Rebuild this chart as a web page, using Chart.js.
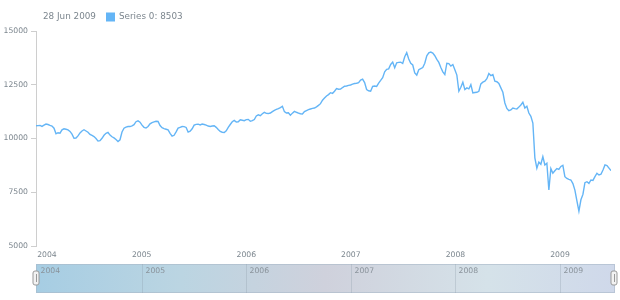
<!DOCTYPE html>
<html>
<head>
<meta charset="utf-8">
<script src="https://cdn.jsdelivr.net/npm/chart.js@4.4.0/dist/chart.umd.min.js"></script>
<style>
  html, body { margin: 0; padding: 0; background: #fff; }
  #wrap { width: 620px; height: 300px; }
</style>
</head>
<body>
<div id="wrap"><canvas id="stockChart" width="620" height="300"></canvas></div>
<script>
// weekly points, first week ending 28 Dec 2003
const startDate = '2003-12-28';
const seriesName = 'Series 0';
const values = [
  10593, 10600, 10608, 10561, 10620, 10673, 10650, 10610, 10580, 10480,
  10220, 10270, 10250, 10400, 10450, 10430, 10400, 10330, 10200, 10010,
  10020, 10120, 10260, 10350, 10406, 10350, 10290, 10190, 10140, 10090,
  10000, 9880, 9900, 10010, 10150, 10240, 10280, 10160, 10080, 10030,
  9950, 9860, 9940, 10300, 10480, 10530, 10560, 10555, 10590, 10640,
  10780, 10820, 10760, 10620, 10520, 10486, 10560, 10680, 10740, 10770,
  10800, 10790, 10600, 10500, 10460, 10430, 10400, 10240, 10110, 10150,
  10310, 10486, 10520, 10555, 10550, 10514, 10299, 10340, 10450, 10620,
  10660, 10670, 10630, 10670, 10650, 10620, 10580, 10561, 10580, 10590,
  10520, 10420, 10330, 10290, 10280, 10360, 10520, 10650, 10780, 10840,
  10770, 10780, 10870, 10850, 10830, 10880, 10890, 10800, 10830, 10880,
  11050, 11100, 11060, 11150, 11215, 11170, 11160, 11184, 11250, 11310,
  11350, 11390, 11440, 11495, 11250, 11184, 11200, 11080, 11180, 11262,
  11220, 11184, 11150, 11137, 11250, 11300, 11340, 11371, 11400, 11418,
  11470, 11540, 11620, 11780, 11880, 11980, 12042, 12130, 12100, 12200,
  12322, 12290, 12300, 12370, 12430, 12440, 12470, 12490, 12530, 12556,
  12570, 12600, 12720, 12760, 12600, 12276, 12220, 12197, 12420, 12440,
  12420, 12580, 12700, 12830, 13100, 13220, 13240, 13444, 13553, 13288,
  13521, 13540, 13553, 13490, 13800, 13990, 13700, 13500, 13420, 13050,
  12950, 13200, 13250, 13300, 13500, 13850, 13980, 14020, 13970, 13850,
  13680, 13540, 13300, 13100, 12975, 13500, 13480, 13366, 13440, 13200,
  12950, 12197, 12380, 12617, 12275, 12353, 12306, 12507, 12120, 12140,
  12151, 12197, 12540, 12620, 12665, 12780, 13023, 12929, 12975, 12664,
  12640, 12560, 12353, 12150, 11653, 11400, 11290, 11330, 11418, 11390,
  11371, 11460, 11560, 11683, 11418, 11496, 11184, 11028, 10720, 9100,
  8617, 8900, 8800, 9159, 8770, 8848, 7603, 8600, 8383, 8500,
  8600, 8560, 8700, 8750, 8224, 8140, 8100, 8070, 7900, 7600,
  7100, 6622, 7150, 7400, 7944, 7990, 7914, 8070, 8050, 8224,
  8383, 8305, 8337, 8537, 8770, 8740, 8620, 8503
];
const yearTicks = [2004, 2005, 2006, 2007, 2008, 2009];
const valueTicks = [5000, 7500, 10000, 12500, 15000];
const monthNames = ['Jan', 'Feb', 'Mar', 'Apr', 'May', 'Jun', 'Jul', 'Aug', 'Sep', 'Oct', 'Nov', 'Dec'];

const lineColor = '#64b5f6';
const textColor = '#7c868e';
const axisColor = '#cecece';
const fontFamily = '"DejaVu Sans", Verdana, sans-serif';

// dates -> decimal years for the linear x axis
const t0 = Date.parse(startDate + 'T00:00:00Z');
const dates = values.map((v, i) => new Date(t0 + i * 7 * 86400000));
function toYear(d) {
  const y = d.getUTCFullYear();
  const a = Date.UTC(y, 0, 1), b = Date.UTC(y + 1, 0, 1);
  return y + (d.getTime() - a) / (b - a);
}
const points = values.map((v, i) => ({ x: toYear(dates[i]), y: v }));

const lastDate = dates[dates.length - 1];
const headerDate = lastDate.getUTCDate() + ' ' + monthNames[lastDate.getUTCMonth()] + ' ' + lastDate.getUTCFullYear();
const headerValue = seriesName + ': ' + values[values.length - 1];

// header text + scroller strip under the plot
const decor = {
  id: 'decor',
  afterDraw(chart) {
    const ctx = chart.ctx;
    const xs = chart.scales.x;
    const area = chart.chartArea;
    ctx.save();

    // header
    ctx.font = '8.8px ' + fontFamily;
    ctx.fillStyle = textColor;
    ctx.textBaseline = 'middle';
    ctx.textAlign = 'left';
    ctx.fillText(headerDate, 43, 17);
    ctx.fillStyle = lineColor;
    ctx.fillRect(106, 12.5, 9, 9);
    ctx.fillStyle = textColor;
    ctx.fillText(headerValue, 119, 17);

    // scroller
    const top = 264, h = 29;
    const left = area.left, right = area.right + 4;
    const g = ctx.createLinearGradient(left, top, right, top + h);
    g.addColorStop(0, '#a6cde3');
    g.addColorStop(0.25, '#bbd5e2');
    g.addColorStop(0.5, '#cfd1dc');
    g.addColorStop(0.78, '#d5e2e9');
    g.addColorStop(1, '#cfd8ea');
    ctx.fillStyle = g;
    ctx.fillRect(left, top, right - left, h);
    ctx.strokeStyle = 'rgba(170,185,200,0.6)';
    ctx.lineWidth = 1;
    ctx.strokeRect(left + 0.5, top + 0.5, right - left - 1, h - 1);

    ctx.font = '7.7px ' + fontFamily;
    ctx.textBaseline = 'middle';
    yearTicks.forEach(yr => {
      const px = Math.round(xs.getPixelForValue(yr)) + 0.5;
      if (px > left + 2) {
        ctx.strokeStyle = 'rgba(140,155,170,0.3)';
        ctx.beginPath();
        ctx.moveTo(px, top);
        ctx.lineTo(px, top + h);
        ctx.stroke();
      }
      ctx.fillStyle = '#8a939b';
      ctx.fillText(String(yr), Math.max(px, left) + 3, top + 7);
    });

    // handles
    [left, right - 1].forEach(hx => {
      ctx.fillStyle = '#f2f2f2';
      ctx.strokeStyle = '#9a9a9a';
      ctx.beginPath();
      ctx.roundRect(hx - 3, top + 7, 6, 14, 2);
      ctx.fill();
      ctx.stroke();
      ctx.beginPath();
      ctx.moveTo(hx + 0.5, top + 10);
      ctx.lineTo(hx + 0.5, top + 18);
      ctx.stroke();
    });
    ctx.restore();
  }
};

new Chart(document.getElementById('stockChart'), {
  type: 'line',
  data: {
    datasets: [{
      label: seriesName,
      data: points,
      borderColor: lineColor,
      borderWidth: 1.4,
      pointRadius: 0,
      tension: 0,
      fill: false
    }]
  },
  options: {
    responsive: false,
    animation: false,
    layout: { padding: { top: 31, right: 9, bottom: 36, left: 0 } },
    plugins: {
      legend: { display: false },
      tooltip: { enabled: false }
    },
    scales: {
      x: {
        type: 'linear',
        min: points[0].x,
        max: points[points.length - 1].x,
        afterFit: s => { s.height = 18; },
        afterBuildTicks: s => {
          s.ticks = yearTicks.map(v => ({ value: v })).concat([{ value: s.max }]);
        },
        grid: { display: false, drawTicks: false },
        border: { display: false },
        ticks: {
          align: 'inner',
          autoSkip: false,
          maxRotation: 0,
          padding: 4,
          color: textColor,
          font: { family: fontFamily, size: 7.7 },
          callback: v => (Number.isInteger(v) ? String(v) : '')
        }
      },
      y: {
        min: 5000,
        max: 15000,
        afterFit: s => { s.width = 36; },
        afterBuildTicks: s => { s.ticks = valueTicks.map(v => ({ value: v })); },
        grid: { drawOnChartArea: false, tickLength: 5, color: axisColor },
        border: { color: axisColor },
        ticks: {
          padding: 3,
          color: textColor,
          font: { family: fontFamily, size: 7.7 },
          callback: v => String(v)
        }
      }
    }
  },
  plugins: [decor]
});
</script>
</body>
</html>
